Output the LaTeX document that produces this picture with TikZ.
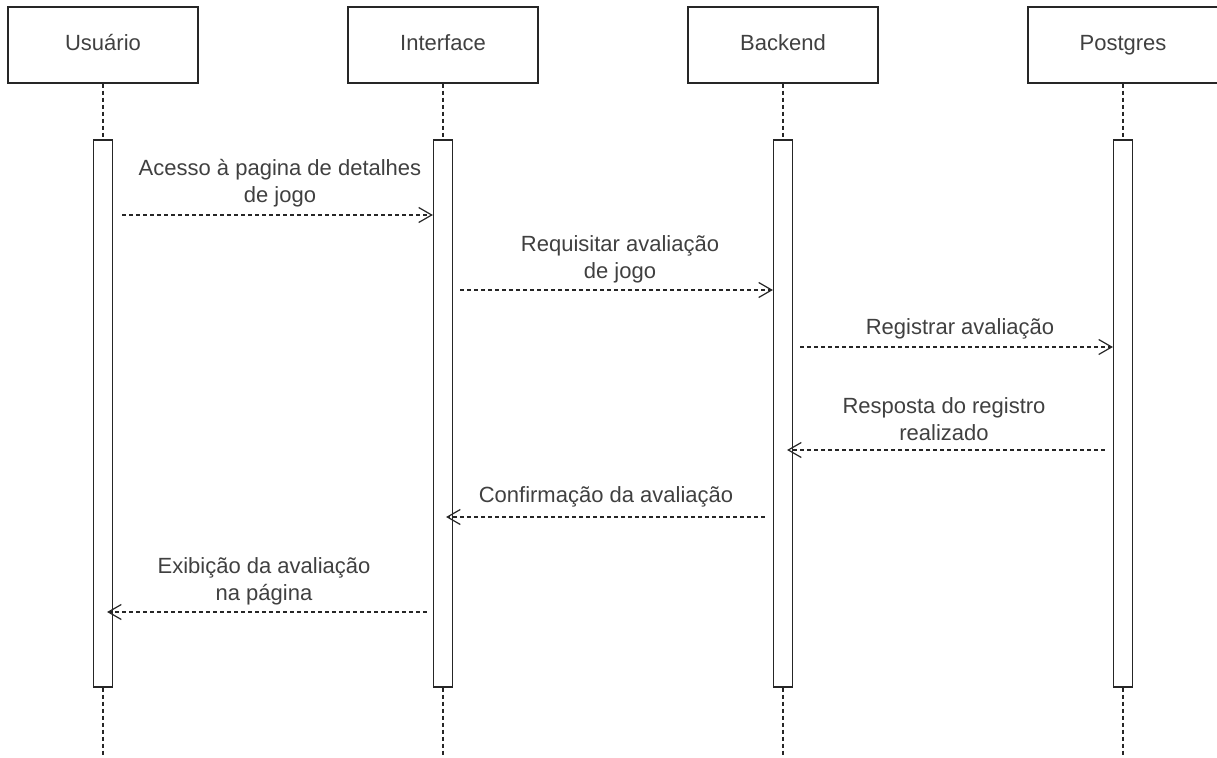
\documentclass[tikz,border=0pt]{standalone}
\usepackage{fontspec}
\setmainfont{Liberation Sans}
\usetikzlibrary{arrows.meta,calc}

\tikzset{
  actor/.style={draw=black!85, line width=1.2pt, minimum width=190pt, minimum height=76pt,
    inner sep=0pt, text height=16pt, text depth=5pt, text=black!75,
    font=\fontsize{22}{27}\selectfont},
  actbar/.style={draw=black!85, line width=1.2pt, fill=white, minimum width=19pt,
    minimum height=547pt, inner sep=0pt},
  lifeline/.style={draw=black!85, line width=1.2pt, dash pattern=on 4pt off 3pt},
  msg/.style={draw=black!85, line width=1.2pt, dash pattern=on 4pt off 3pt,
    -{Straight Barb[length=13pt,width=15pt]}},
  lbl/.style={text=black!75, align=center, font=\fontsize{22}{27}\selectfont}
}

\begin{document}
\begin{tikzpicture}[x=1pt,y=-1pt]
\useasboundingbox (0,0) rectangle (1217,757);

% participants, activation bars and lifelines
\foreach \nm/\txt/\cx in {usr/Usuário/103, int/Interface/443, bck/Backend/783, pg/Postgres/1123}{
  \node[actor] (\nm) at (\cx,45) {\txt};
  \node[actbar] (\nm bar) at (\cx,413.5) {};
  \coordinate (\nm end) at (\cx,757);
  \draw[lifeline] (\nm) -- (\nm bar);
  \draw[lifeline] (\nm bar) -- (\nm end);
}

% message heights
\coordinate (y1) at (0,215);
\coordinate (y2) at (0,290);
\coordinate (y3) at (0,347);
\coordinate (y4) at (0,450);
\coordinate (y5) at (0,517);
\coordinate (y6) at (0,612);

\node[lbl] (m1) at (280,183) {Acesso à pagina de detalhes\\de jogo};
\draw[msg] ($(usrbar.east |- y1)+(9,0)$) -- (intbar.west |- y1);

\node[lbl] (m2) at (620,259) {Requisitar avaliação\\de jogo};
\draw[msg] ($(intbar.east |- y2)+(7,0)$) -- (bckbar.west |- y2);

\node[lbl] (m3) at (960,329) {Registrar avaliação};
\draw[msg] ($(bckbar.east |- y3)+(7,0)$) -- (pgbar.west |- y3);

\node[lbl] (m4) at (944,419) {Resposta do registro\\realizado};
\draw[msg] ($(pgbar.west |- y4)+(-8,0)$) -- ($(bckbar.east |- y4)+(-6,0)$);

\node[lbl] (m5) at (606,497) {Confirmação da avaliação};
\draw[msg] ($(bckbar.west |- y5)+(-8,0)$) -- ($(intbar.east |- y5)+(-7,0)$);

\node[lbl] (m6) at (264,581) {Exibição da avaliação\\na página};
\draw[msg] ($(intbar.west |- y6)+(-6,0)$) -- ($(usrbar.east |- y6)+(-6,0)$);
\end{tikzpicture}
\end{document}
